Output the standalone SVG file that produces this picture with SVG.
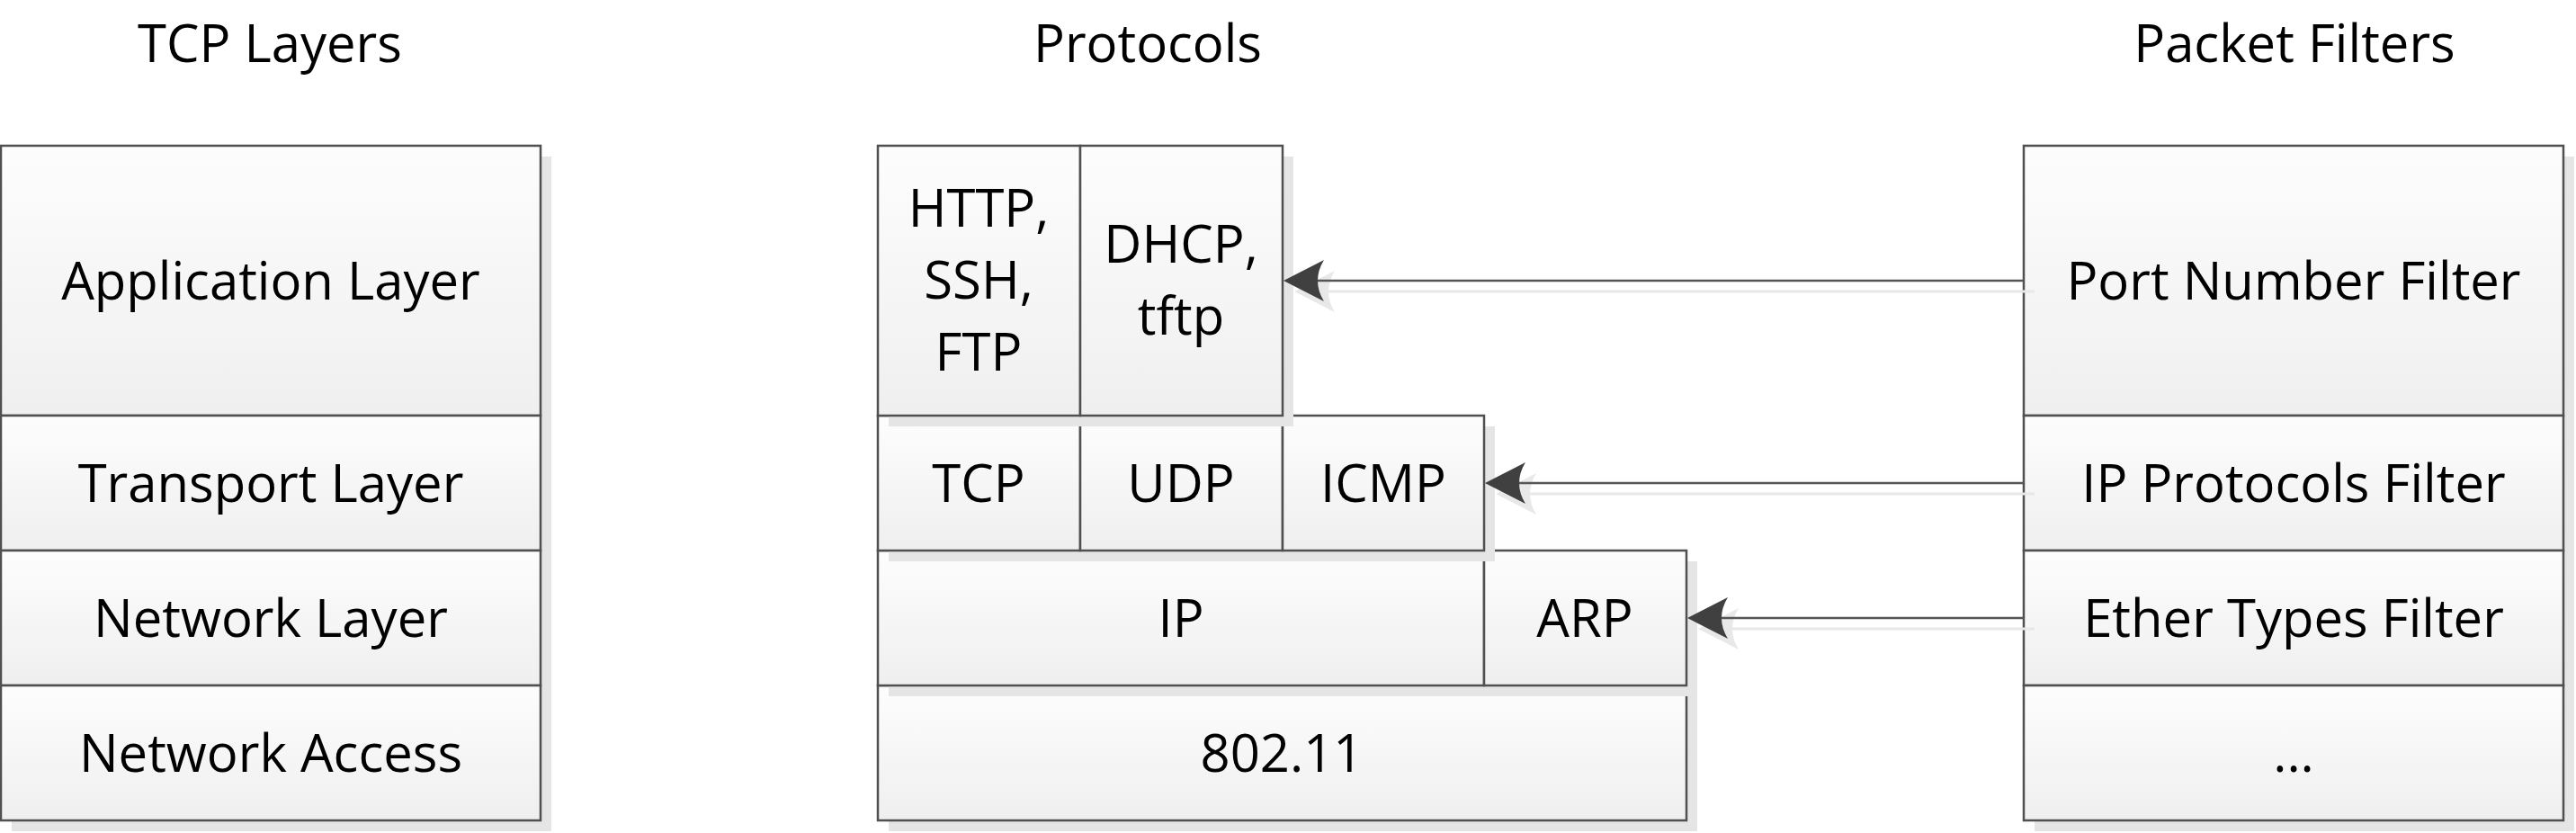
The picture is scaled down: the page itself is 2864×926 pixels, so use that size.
<svg xmlns="http://www.w3.org/2000/svg" width="2864" height="926" viewBox="0 0 2864 926">
<defs>
<linearGradient id="g" x1="0" y1="0" x2="0" y2="1">
<stop offset="0" stop-color="#fdfdfd"/>
<stop offset="1" stop-color="#efefef"/>
</linearGradient>
<style>
.c{fill:url(#g);stroke:#505050;stroke-width:2.5}
.s{fill:#e5e5e5}
.t{font-family:"Open Sans","Liberation Sans",sans-serif;font-size:58px;fill:#000;text-anchor:middle}
.ln{stroke:#555;stroke-width:2.5;fill:none}
.lns{stroke:#e8e8e8;stroke-width:3;fill:none}
.ah{fill:#404040}
.ahs{fill:#e8e8e8}
</style>
</defs>
<rect width="2864" height="926" fill="#fff"/>

<g id="headers">
<text class="t" x="300" y="69">TCP Layers</text>
<text class="t" x="1276" y="69">Protocols</text>
<text class="t" x="2551" y="69">Packet Filters</text>
</g>

<g id="tcp-layers">
<g id="application-layer"><rect class="s" x="13" y="174" width="600" height="300"/><rect class="c" x="1" y="162" width="600" height="300"/><text class="t" x="301" y="333">Application Layer</text></g>
<g id="transport-layer"><rect class="s" x="13" y="474" width="600" height="150"/><rect class="c" x="1" y="462" width="600" height="150"/><text class="t" x="301" y="558">Transport Layer</text></g>
<g id="network-layer"><rect class="s" x="13" y="624" width="600" height="150"/><rect class="c" x="1" y="612" width="600" height="150"/><text class="t" x="301" y="708">Network Layer</text></g>
<g id="network-access"><rect class="s" x="13" y="774" width="600" height="150"/><rect class="c" x="1" y="762" width="600" height="150"/><text class="t" x="301" y="858">Network Access</text></g>
</g>

<g id="protocols">
<g id="p-80211"><rect class="s" x="988" y="774" width="899" height="150"/><rect class="c" x="976" y="762" width="899" height="150"/><text class="t" x="1425" y="858">802.11</text></g>
<g id="p-ip"><rect class="s" x="988" y="624" width="674" height="150"/><rect class="s" x="1662" y="624" width="225" height="150"/><rect class="c" x="976" y="612" width="674" height="150"/><text class="t" x="1313" y="708">IP</text></g>
<g id="p-arp"><rect class="c" x="1650" y="612" width="225" height="150"/><text class="t" x="1762" y="708">ARP</text></g>
<g id="p-tcp"><rect class="s" x="988" y="474" width="225" height="150"/><rect class="s" x="1213" y="474" width="225" height="150"/><rect class="s" x="1438" y="474" width="224" height="150"/><rect class="c" x="976" y="462" width="225" height="150"/><text class="t" x="1088" y="558">TCP</text></g>
<g id="p-udp"><rect class="c" x="1201" y="462" width="225" height="150"/><text class="t" x="1313" y="558">UDP</text></g>
<g id="p-icmp"><rect class="c" x="1426" y="462" width="224" height="150"/><text class="t" x="1538" y="558">ICMP</text></g>
<g id="p-http"><rect class="s" x="988" y="174" width="225" height="300"/><rect class="s" x="1213" y="174" width="225" height="300"/><rect class="c" x="976" y="162" width="225" height="300"/><text class="t" x="1088" y="252">HTTP,</text><text class="t" x="1088" y="332">SSH,</text><text class="t" x="1088" y="412">FTP</text></g>
<g id="p-dhcp"><rect class="c" x="1201" y="162" width="225" height="300"/><text class="t" x="1313" y="292">DHCP,</text><text class="t" x="1313" y="372">tftp</text></g>
</g>

<g id="packet-filters">
<g id="port-number-filter"><rect class="s" x="2262" y="174" width="600" height="300"/><rect class="c" x="2250" y="162" width="600" height="300"/><text class="t" x="2550" y="333">Port Number Filter</text></g>
<g id="ip-protocols-filter"><rect class="s" x="2262" y="474" width="600" height="150"/><rect class="c" x="2250" y="462" width="600" height="150"/><text class="t" x="2550" y="558">IP Protocols Filter</text></g>
<g id="ether-types-filter"><rect class="s" x="2262" y="624" width="600" height="150"/><rect class="c" x="2250" y="612" width="600" height="150"/><text class="t" x="2550" y="708">Ether Types Filter</text></g>
<g id="more-filters"><rect class="s" x="2262" y="774" width="600" height="150"/><rect class="c" x="2250" y="762" width="600" height="150"/><text class="t" x="2550" y="858">...</text></g>
</g>

<g id="connectors">
<g id="c-port">
<line class="lns" x1="1477" y1="324" x2="2262" y2="324"/>
<path class="ahs" d="M1439,324 L1484,301 Q1470,324 1484,347 Z"/>
<line class="ln" x1="1465" y1="312" x2="2250" y2="312"/>
<path class="ah" d="M1427,312 L1472,289 Q1458,312 1472,335 Z"/>
</g>
<g id="c-ipproto">
<line class="lns" x1="1701" y1="549" x2="2262" y2="549"/>
<path class="ahs" d="M1663,549 L1708,526 Q1694,549 1708,572 Z"/>
<line class="ln" x1="1689" y1="537" x2="2250" y2="537"/>
<path class="ah" d="M1651,537 L1696,514 Q1682,537 1696,560 Z"/>
</g>
<g id="c-ether">
<line class="lns" x1="1926" y1="699" x2="2262" y2="699"/>
<path class="ahs" d="M1888,699 L1933,676 Q1919,699 1933,722 Z"/>
<line class="ln" x1="1914" y1="687" x2="2250" y2="687"/>
<path class="ah" d="M1876,687 L1921,664 Q1907,687 1921,710 Z"/>
</g>
</g>
</svg>
